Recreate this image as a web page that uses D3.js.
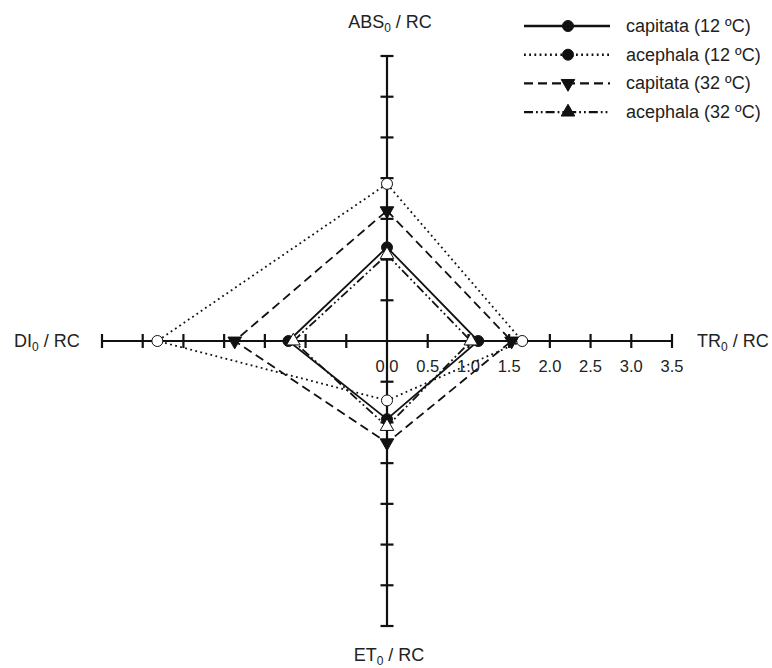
<!DOCTYPE html>
<html lang="en">
<head>
<meta charset="UTF-8">
<title>Radar plot</title>
<script src="https://d3js.org/d3.v7.min.js"></script>
<style>
  body { margin: 0; background: #fff; }
  svg text { font-family: "Liberation Sans", Arial, sans-serif; fill: #222; }
</style>
</head>
<body>
<svg id="chart" width="772" height="668"></svg>
<script>
// axes, clockwise from top
var axes = ["ABS", "TR", "ET", "DI"];
var axisAngles = [-90, 0, 90, 180];
var tickValues = [0.5, 1.0, 1.5, 2.0, 2.5, 3.0, 3.5];
var tickLabels = ["0.0", "0.5", "1.0", "1.5", "2.0", "2.5", "3.0", "3.5"];

// series values in axis order ABS, TR, ET, DI
var seriesNames = ["capitata (12 ºC)", "acephala (12 ºC)", "capitata (32 ºC)", "acephala (32 ºC)"];
var capitata12 = [1.15, 1.12, 0.96, 1.21];
var acephala12 = [1.93, 1.66, 0.73, 2.82];
var capitata32 = [1.60, 1.53, 1.25, 1.87];
var acephala32 = [1.06, 1.03, 1.05, 1.15];

var svg = d3.select("#chart");
var cx = 387, cy = 341;

var r = d3.scaleLinear().domain([0, 3.5]).range([0, 285]);

function pt(i, v) {
  var a = axisAngles[i] * Math.PI / 180;
  return [cx + r(v) * Math.cos(a), cy + r(v) * Math.sin(a)];
}

var styles = [
  { data: capitata12, dash: null, marker: "circle", fill: "#111" },
  { data: acephala12, dash: "1.8,3.4", marker: "circle", fill: "#fff", legendFill: "#111" },
  { data: capitata32, dash: "9,5", marker: "down", fill: "#111" },
  { data: acephala32, dash: "9,3,1.8,3,1.8,3", marker: "up", fill: "#fff", legendFill: "#111" }
];

// axis lines
var g = svg.append("g");
axes.forEach(function (name, i) {
  var end = pt(i, 3.5);
  g.append("line")
    .attr("x1", cx).attr("y1", cy)
    .attr("x2", end[0]).attr("y2", end[1])
    .attr("stroke", "#111").attr("stroke-width", 2.2);
  tickValues.forEach(function (v) {
    var p = pt(i, v);
    var horiz = (i === 0 || i === 2);
    g.append("line")
      .attr("x1", horiz ? p[0] - 6.5 : p[0]).attr("x2", horiz ? p[0] + 6.5 : p[0])
      .attr("y1", horiz ? p[1] : p[1] - 7).attr("y2", horiz ? p[1] : p[1] + 7)
      .attr("stroke", "#111").attr("stroke-width", 2.2);
  });
});

// tick labels on TR axis
var xr = d3.scaleLinear().domain([0, 3.5]).range([cx, cx + 285]);
tickLabels.forEach(function (t) {
  svg.append("text")
    .attr("x", xr(+t)).attr("y", 372)
    .attr("text-anchor", "middle")
    .attr("font-size", 16.5)
    .text(t);
});

// polygons
var line = d3.line().curve(d3.curveLinearClosed);
styles.forEach(function (s) {
  svg.append("path")
    .attr("d", line(s.data.map(function (v, i) { return pt(i, v); })))
    .attr("fill", "none")
    .attr("stroke", "#111")
    .attr("stroke-width", 1.8)
    .attr("stroke-dasharray", s.dash);
});

function marker(sel, type, x, y, fill) {
  if (type === "circle") {
    sel.append("circle").attr("cx", x).attr("cy", y).attr("r", 5.5)
      .attr("fill", fill).attr("stroke", "#111").attr("stroke-width", 1);
  } else {
    var sym = d3.symbol().type(d3.symbolTriangle).size(80);
    sel.append("path").attr("d", sym())
      .attr("transform", "translate(" + x + "," + y + ")" + (type === "down" ? " rotate(180)" : ""))
      .attr("fill", fill).attr("stroke", "#111").attr("stroke-width", 1);
  }
}

styles.forEach(function (s) {
  s.data.forEach(function (v, i) {
    var p = pt(i, v);
    marker(svg, s.marker, p[0], p[1], s.fill);
  });
});

// axis titles
function title(x, y, base, anchor) {
  var t = svg.append("text").attr("x", x).attr("y", y)
    .attr("text-anchor", anchor).attr("font-size", 18);
  t.append("tspan").text(base);
  t.append("tspan").attr("font-size", 12).attr("dy", 4).text("0");
  t.append("tspan").attr("dy", -4).text(" / RC");
}
title(390, 28, "ABS", "middle");
title(697, 347, "TR", "start");
title(389, 661, "ET", "middle");
title(14, 347, "DI", "start");

// legend
var leg = svg.append("g");
styles.forEach(function (s, i) {
  var y = 26 + i * 28.7;
  leg.append("line")
    .attr("x1", 524).attr("x2", 610).attr("y1", y).attr("y2", y)
    .attr("stroke", "#111").attr("stroke-width", 2.4)
    .attr("stroke-dasharray", s.dash);
  marker(leg, s.marker, 568, y, s.legendFill || s.fill);
  leg.append("text")
    .attr("x", 626).attr("y", y + 6)
    .attr("font-size", 18)
    .text(seriesNames[i]);
});
</script>
</body>
</html>
